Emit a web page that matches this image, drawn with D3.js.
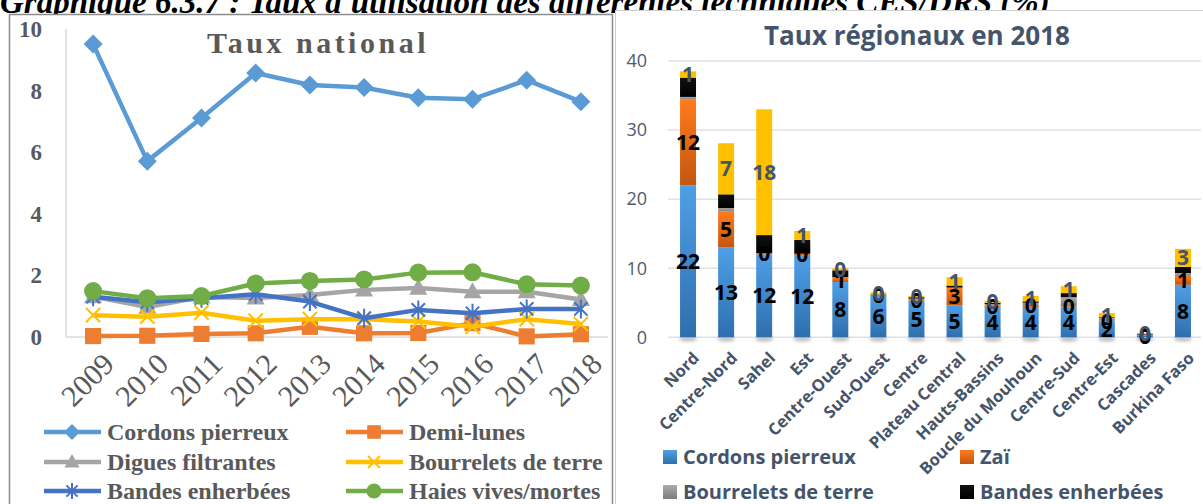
<!DOCTYPE html>
<html><head><meta charset="utf-8">
<script src="https://cdn.jsdelivr.net/npm/d3@7"></script>
<style>
html,body{margin:0;padding:0;background:#fff;}
svg{display:block;}
</style></head>
<body>
<svg id="chart" width="1203" height="504"></svg>
<script>
// ---------- Left chart data (Taux national, %) ----------
const years = ["2009","2010","2011","2012","2013","2014","2015","2016","2017","2018"];
const cordons    = [9.51,5.71,7.11,8.57,8.18,8.10,7.77,7.72,8.34,7.64];
const demiLunes  = [0.03,0.04,0.10,0.12,0.33,0.12,0.13,0.45,0.02,0.09];
const digues     = [1.31,0.97,1.30,1.27,1.36,1.53,1.59,1.47,1.47,1.22];
const bourrelets = [0.71,0.66,0.79,0.53,0.58,0.58,0.50,0.33,0.58,0.42];
const bandes     = [1.31,1.13,1.26,1.39,1.15,0.61,0.88,0.77,0.91,0.91];
const haies      = [1.49,1.26,1.33,1.74,1.82,1.87,2.09,2.10,1.71,1.67];
const leftTicks  = [0,2,4,6,8,10];

// ---------- Right chart data (Taux régionaux en 2018) ----------
const regions = ["Nord","Centre-Nord","Sahel","Est","Centre-Ouest","Sud-Ouest","Centre","Plateau Central","Hauts-Bassins","Boucle du Mouhoun","Centre-Sud","Centre-Est","Cascades","Burkina Faso"];
const regCordons    = [22.0,13.0,12.0,11.9,8.0,6.0,5.3,4.6,4.3,4.4,4.3,2.3,0.3,7.6];
const regZai        = [12.4,5.2,0.2,0.2,0.6,0.1,0.2,2.6,0.3,0.3,0.2,0.1,0.05,1.3];
const regBourrelets = [0.4,0.5,0.0,0.0,0.1,0.0,0.1,0.0,0.2,0.3,1.3,0.4,0.05,0.4];
const regBandes     = [2.8,2.0,2.6,2.0,1.0,0.1,0.2,0.3,0.2,0.2,0.6,0.1,0.1,0.9];
const regDemiLunes  = [0.9,7.4,18.2,1.3,0.3,0.3,0.2,1.2,0.3,0.8,1.0,0.6,0.1,2.6];
const rightTicks = [0,10,20,30,40];

const svg = d3.select("#chart");
const serif = "'Liberation Serif','Times New Roman',serif";
const sans = "'Open Sans','Noto Sans',sans-serif";

// caption (cut at top in the reference)
svg.append("text").attr("x",0).attr("y",13)
  .style("font-family",serif).style("font-weight","bold").style("font-style","italic")
  .style("font-size","33px").attr("fill","#000")
  .text("Graphique 6.3.7 : Taux d'utilisation des différentes techniques CES/DRS (%)");

// frames
svg.append("rect").attr("x",9.5).attr("y",14.5).attr("width",603).attr("height",500)
  .attr("fill","#fff").attr("stroke","#8c8c8c").attr("stroke-width",1.5);
svg.append("rect").attr("x",615.5).attr("y",10.5).attr("width",600).attr("height",500)
  .attr("fill","#fff").attr("stroke","#d0d0d0").attr("stroke-width",1);

// ================= LEFT CHART =================
const xL = d3.scaleBand().domain(years).range([66,608]);
const yL = d3.scaleLinear().domain([0,10]).range([337,29]);
const gL = svg.append("g");

gL.append("line").attr("x1",66).attr("x2",66).attr("y1",yL(10)).attr("y2",yL(0))
  .attr("stroke","#d9d9d9").attr("stroke-width",1.5);
gL.append("line").attr("x1",66).attr("x2",608).attr("y1",yL(0)).attr("y2",yL(0))
  .attr("stroke","#d9d9d9").attr("stroke-width",1.5);

gL.selectAll(".ytl").data(leftTicks).enter().append("text")
  .attr("x",42).attr("y",d=>yL(d)).attr("dy","0.35em").attr("text-anchor","end")
  .style("font-family",serif).style("font-weight","bold").style("font-size","23px")
  .attr("fill","#595959").text(d=>d);

gL.selectAll(".xtl").data(years).enter().append("text")
  .attr("transform",d=>`translate(${xL(d)+xL.bandwidth()/2+8},${351}) rotate(-45)`)
  .attr("text-anchor","end").attr("dy","0.7em")
  .style("font-family",serif).style("font-size","30px").attr("fill","#595959").text(d=>d);

gL.append("text").attr("x",318).attr("y",53).attr("text-anchor","middle")
  .style("font-family",serif).style("font-weight","bold").style("font-size","30px")
  .style("letter-spacing","3.5px").attr("fill","#595959").text("Taux national");

function markerPath(type, s){
  switch(type){
    case "diamond": return `M0,${-s}L${s},0L0,${s}L${-s},0Z`;
    case "square": return `M${-s*0.85},${-s*0.85}H${s*0.85}V${s*0.85}H${-s*0.85}Z`;
    case "triangle": return `M0,${-s}L${s*0.95},${s*0.7}L${-s*0.95},${s*0.7}Z`;
    case "x": return `M${-s*0.75},${-s*0.75}L${s*0.75},${s*0.75}M${s*0.75},${-s*0.75}L${-s*0.75},${s*0.75}`;
    case "star": return `M${-s*0.7},${-s*0.7}L${s*0.7},${s*0.7}M${s*0.7},${-s*0.7}L${-s*0.7},${s*0.7}M0,${-s}L0,${s}`;
  }
  return "";
}
const lineSeries = [
  {name:"Cordons pierreux", values:cordons, color:"#5b9bd5", marker:"diamond"},
  {name:"Demi-lunes", values:demiLunes, color:"#ed7d31", marker:"square"},
  {name:"Digues filtrantes", values:digues, color:"#a5a5a5", marker:"triangle"},
  {name:"Bourrelets de terre", values:bourrelets, color:"#ffc000", marker:"x"},
  {name:"Bandes enherbées", values:bandes, color:"#4472c4", marker:"star"},
  {name:"Haies vives/mortes", values:haies, color:"#70ad47", marker:"circle"}
];
const line = d3.line().x((d,i)=>xL(years[i])+xL.bandwidth()/2).y(d=>yL(d));
function drawMarker(g, m, color, x, y, s){
  if(m==="circle"){ g.append("circle").attr("cx",x).attr("cy",y).attr("r",s*0.95).attr("fill",color); return; }
  const p = g.append("path").attr("d",markerPath(m,s)).attr("transform",`translate(${x},${y})`);
  if(m==="x"||m==="star") p.attr("fill","none").attr("stroke",color).attr("stroke-width",2);
  else p.attr("fill",color);
}
lineSeries.forEach(s=>{
  const g = gL.append("g");
  g.append("path").datum(s.values).attr("d",line).attr("fill","none")
    .attr("stroke",s.color).attr("stroke-width",4.5).attr("stroke-linejoin","round");
  s.values.forEach((v,i)=>drawMarker(g,s.marker,s.color,xL(years[i])+xL.bandwidth()/2,yL(v),9.5));
});

// left legend
const legPosL = [[44,432],[346,432],[44,462],[346,462],[44,491],[346,491]];
lineSeries.forEach((s,i)=>{
  const [lx,ly] = legPosL[i];
  const g = gL.append("g");
  g.append("line").attr("x1",lx).attr("x2",lx+57).attr("y1",ly).attr("y2",ly)
    .attr("stroke",s.color).attr("stroke-width",4.5);
  drawMarker(g,s.marker,s.color,lx+28,ly,8);
  g.append("text").attr("x",lx+63).attr("y",ly).attr("dy","0.35em")
    .style("font-family",serif).style("font-weight","bold").style("font-size","24px")
    .attr("fill","#595959").text(s.name);
});

// ================= RIGHT CHART =================
const xR = d3.scaleBand().domain(regions).range([669,1202]).paddingInner(0.58).paddingOuter(0.29);
const yR = d3.scaleLinear().domain([0,40]).range([337.3,61]);
const gR = svg.append("g");
const slate = "#44546a";

gR.selectAll(".grid").data(rightTicks).enter().append("line")
  .attr("x1",668).attr("x2",1201).attr("y1",d=>yR(d)).attr("y2",d=>yR(d))
  .attr("stroke","#dde1e6").attr("stroke-width",1.5);
gR.selectAll(".ytr").data(rightTicks).enter().append("text")
  .attr("x",647).attr("y",d=>yR(d)).attr("dy","0.35em").attr("text-anchor","end")
  .style("font-family",sans).style("font-size","18px").attr("fill","#4f5b6b").text(d=>d);

gR.append("text").attr("x",917).attr("y",45).attr("text-anchor","middle")
  .style("font-family",sans).style("font-weight","bold").style("font-size","26px")
  .attr("fill",slate).text("Taux régionaux en 2018");

const defs = svg.append("defs");
function grad(id, top, bottom){
  const g = defs.append("linearGradient").attr("id",id).attr("x1",0).attr("y1",0).attr("x2",0).attr("y2",1);
  g.append("stop").attr("offset","0%").attr("stop-color",top);
  g.append("stop").attr("offset","100%").attr("stop-color",bottom);
}
grad("gBlue","#4f9fe6","#2e6fae");
grad("gOrange","#ff7b1c","#c4560f");
grad("gGray","#ababab","#7d7d7d");
grad("gBlack","#111","#000");
grad("gYellow","#ffc000","#ffc000");
const blur = defs.append("filter").attr("id","shadow").attr("x","-50%").attr("y","-100%").attr("width","200%").attr("height","300%");
blur.append("feGaussianBlur").attr("stdDeviation",1.6);

const barSeries = [
  {name:"Cordons pierreux", values:regCordons, fill:"url(#gBlue)", label:"#000"},
  {name:"Zaï", values:regZai, fill:"url(#gOrange)", label:"#000"},
  {name:"Bourrelets de terre", values:regBourrelets, fill:"url(#gGray)", label:null},
  {name:"Bandes enherbées", values:regBandes, fill:"url(#gBlack)", label:null},
  {name:"Demi-lunes", values:regDemiLunes, fill:"url(#gYellow)", label:slate}
];
const table = regions.map((r,i)=>{ const o={region:r}; barSeries.forEach(s=>o[s.name]=s.values[i]); return o; });
const stacked = d3.stack().keys(barSeries.map(s=>s.name))(table);

// shadows
gR.selectAll(".shadow").data(regions).enter().append("ellipse")
  .attr("cx",d=>xR(d)+xR.bandwidth()/2).attr("cy",yR(0)+2).attr("rx",xR.bandwidth()/2+1).attr("ry",2.5)
  .attr("fill","#9a9a9a").attr("opacity",0.6).attr("filter","url(#shadow)");

stacked.forEach((layer,k)=>{
  gR.append("g").selectAll("rect").data(layer).enter().append("rect")
    .attr("x",d=>xR(d.data.region)).attr("width",xR.bandwidth())
    .attr("y",d=>yR(d[1])).attr("height",d=>Math.max(0,yR(d[0])-yR(d[1])))
    .attr("fill",barSeries[k].fill);
});
stacked.forEach((layer,k)=>{
  if(!barSeries[k].label) return;
  gR.append("g").selectAll("text").data(layer).enter().append("text")
    .attr("x",d=>xR(d.data.region)+xR.bandwidth()/2)
    .attr("y",d=>yR((d[0]+d[1])/2)).attr("dy","0.36em").attr("text-anchor","middle")
    .style("font-family",sans).style("font-weight","bold").style("font-size","21px")
    .attr("fill",barSeries[k].label).text(d=>Math.round(d[1]-d[0]));
});

gR.selectAll(".xtr").data(regions).enter().append("text")
  .attr("transform",d=>`translate(${xR(d)+xR.bandwidth()/2+4},${351}) rotate(-45)`)
  .attr("text-anchor","end").attr("dy","0.7em")
  .style("font-family",sans).style("font-weight","bold").style("font-size","16.5px")
  .attr("fill",slate).text(d=>d);

const legPosR = [[663,457],[960,457],[663,492],[960,492]];
barSeries.slice(0,4).forEach((s,i)=>{
  const [lx,ly] = legPosR[i];
  gR.append("rect").attr("x",lx).attr("y",ly-7).attr("width",14).attr("height",14).attr("fill",s.fill);
  gR.append("text").attr("x",lx+20).attr("y",ly).attr("dy","0.35em")
    .style("font-family",sans).style("font-weight","bold").style("font-size","20px")
    .attr("fill",slate).text(s.name);
});
</script>
</body></html>
